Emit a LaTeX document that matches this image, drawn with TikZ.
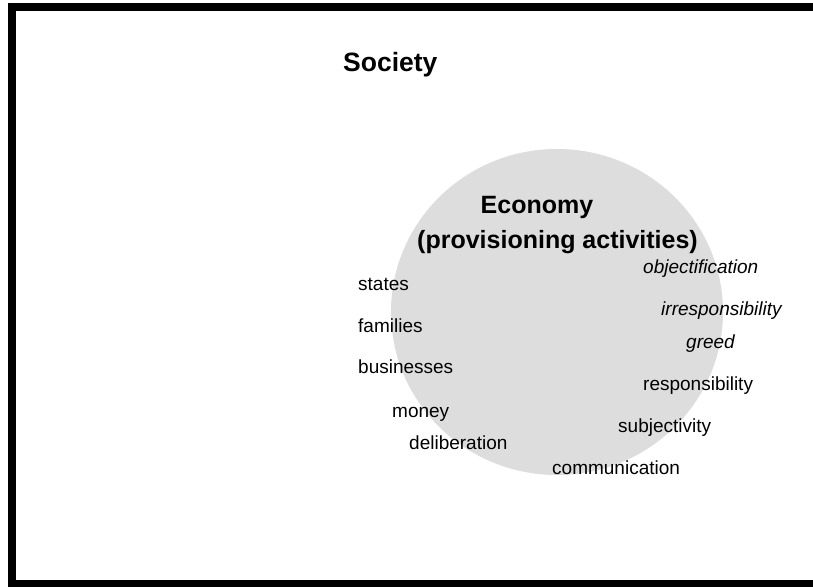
\documentclass[tikz,border=0pt]{standalone}
\usepackage{fontspec}
\setmainfont{Liberation Sans}
\begin{document}
\begin{tikzpicture}[x=1pt,y=-1pt,
  word/.style={anchor=base west,inner sep=0pt,font=\fontsize{19}{22}\selectfont},
  iword/.style={word,font=\fontsize{19}{22}\selectfont\itshape},
  title/.style={anchor=base,inner sep=0pt,font=\fontsize{25}{29}\selectfont\bfseries}]
\useasboundingbox (0,0) rectangle (813,586);
\clip (0,0) rectangle (813,586);
\fill[white] (0,0) rectangle (813,586);
\draw[line width=8pt] (12,7) rectangle (830,584);
\fill[fill={rgb,255:red,221;green,221;blue,221}] (557,312) ellipse [x radius=166, y radius=163];
\node[title,anchor=base west,font=\fontsize{26.5}{30}\selectfont\bfseries] (society) at (343,71) {Society};
\node[title] (economy) at (537,213) {Economy};
\node[title] (prov) at (557.5,248) {(provisioning activities)};
\node[iword] (obj) at (643,273) {objectification};
\node[iword] (irr) at (661,315) {irresponsibility};
\node[iword] (greed) at (686,348) {greed};
\node[word] (resp) at (643,390) {responsibility};
\node[word] (subj) at (618,432) {subjectivity};
\node[word] (comm) at (552,474) {communication};
\node[word] (states) at (358,290) {states};
\node[word] (fam) at (358,332) {families};
\node[word] (bus) at (358,373) {businesses};
\node[word] (money) at (392,417) {money};
\node[word] (delib) at (409,449) {deliberation};
\end{tikzpicture}
\end{document}
